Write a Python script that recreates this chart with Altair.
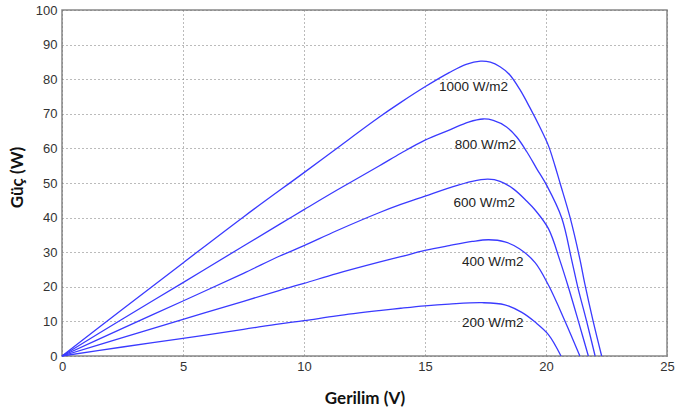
import altair as alt
import pandas as pd

v1000 = [0, 2.5, 5, 7.5, 10, 11.35, 13.1, 14, 15, 16, 16.7, 17.3, 17.7, 18.1, 18.5, 18.93, 19.34, 19.75, 20.1, 20.37, 20.58, 21.0, 21.4, 21.6, 21.95, 22.3]
p1000 = [0, 13.5, 26.9, 40.2, 53, 60, 69, 73.3, 77.8, 81.9, 84.3, 85.2, 84.9, 83.6, 81.3, 76.9, 71.7, 66.1, 60.8, 55, 50, 39.9, 28, 21, 10, 0]

v800 = [0, 2.5, 5, 7.5, 9, 10, 11.35, 13.1, 14, 15, 16, 16.8, 17.4, 17.82, 18.37, 18.79, 19.2, 19.62, 20.03, 20.65, 21.06, 21.31, 21.68, 22.03]
p800 = [0, 10.7, 21.2, 31.8, 38.1, 42.3, 47.9, 54.9, 58.6, 62.4, 65.3, 67.6, 68.5, 68.1, 66.2, 63.3, 59.1, 54.1, 49.3, 39.9, 27.8, 20, 10, 0]

v600 = [0, 2.5, 5, 7.5, 9, 10, 11.35, 13.1, 14, 15, 16, 16.95, 17.6, 18.1, 18.65, 19.2, 19.55, 20.1, 20.58, 20.92, 21.34, 21.75]
p600 = [0, 8, 15.9, 23.9, 28.9, 31.9, 36.2, 41.4, 43.8, 46.2, 48.6, 50.5, 51.1, 50.5, 48.3, 44.8, 42.2, 36.8, 27.5, 20, 10, 0]

v400 = [0, 2.5, 5, 7.5, 9, 10, 11.35, 13.1, 14, 15, 16, 16.95, 17.63, 18.3, 18.9, 19.55, 20.1, 20.79, 21.4]
p400 = [0, 5.3, 10.6, 15.8, 19, 21, 23.8, 27.1, 28.7, 30.5, 31.9, 33.1, 33.6, 33, 31, 27, 20.5, 10, 0]

v200 = [0, 2.5, 5, 7.5, 9, 10, 11.35, 13.1, 14, 15, 16, 17.36, 18.3, 19, 19.55, 20.1, 20.62]
p200 = [0, 2.6, 5.1, 7.7, 9.3, 10.2, 11.6, 13.1, 13.8, 14.5, 15, 15.4, 14.8, 12.6, 9.8, 6.2, 0]

label_text = ["1000 W/m2", "800 W/m2", "600 W/m2", "400 W/m2", "200 W/m2"]
label_v = [17.0, 17.5, 17.45, 17.8, 17.8]
label_p = [77.8, 61.0, 44.1, 27.1, 9.5]

x_ticks = [0, 5, 10, 15, 20, 25]
y_ticks = [0, 10, 20, 30, 40, 50, 60, 70, 80, 90, 100]

rows = []
for name, vs, ps in [("1000", v1000, p1000), ("800", v800, p800), ("600", v600, p600),
                     ("400", v400, p400), ("200", v200, p200)]:
    for i, (v, p) in enumerate(zip(vs, ps)):
        rows.append({"series": name, "V": v, "P": p, "order": i})
df = pd.DataFrame(rows)
labels = pd.DataFrame({"text": label_text, "V": label_v, "P": label_p})

xscale = alt.Scale(domain=[0, 25], nice=False)
yscale = alt.Scale(domain=[0, 100], nice=False)

xaxis = alt.Axis(values=x_ticks, title="Gerilim (V)", grid=True, gridDash=[1, 3],
                 gridColor="#777", gridWidth=1, ticks=False, domain=False,
                 labelFont="Liberation Sans", labelFontSize=13, labelColor="#333",
                 labelPadding=4, titleFont="Lato", titleFontSize=17, titleFontWeight="bold",
                 titleColor="#111", titlePadding=17, labelFlush=False, labelOverlap=False)
yaxis = alt.Axis(values=y_ticks, title="Güç (W)", grid=True, gridDash=[1, 3],
                 gridColor="#777", gridWidth=1, ticks=False, domain=False,
                 labelFont="Liberation Sans", labelFontSize=13, labelColor="#333",
                 labelPadding=5, titleFont="Lato", titleFontSize=17, titleFontWeight="bold",
                 titleColor="#111", titleX=-36, titleY=167, labelFlush=False, labelOverlap=False)

lines = alt.Chart(df).mark_line(color="#3a3aff", strokeWidth=1.3, interpolate="catmull-rom").encode(
    x=alt.X("V:Q", scale=xscale, axis=xaxis),
    y=alt.Y("P:Q", scale=yscale, axis=yaxis),
    detail="series:N",
    order="order:Q",
)

texts = alt.Chart(labels).mark_text(font="Liberation Sans", fontSize=13.5, color="#222").encode(
    x=alt.X("V:Q", scale=xscale, axis=xaxis),
    y=alt.Y("P:Q", scale=yscale, axis=yaxis),
    text="text:N",
)

chart = alt.layer(lines, texts).properties(
    width=605, height=346,
    padding={"left": 62, "top": 10, "right": 8, "bottom": 58},
    autosize=alt.AutoSizeParams(type="none"),
    background="white",
).configure_view(stroke="#888", strokeWidth=1.5)

chart.save("out.html", embed_options={"renderer": "svg", "actions": False})
